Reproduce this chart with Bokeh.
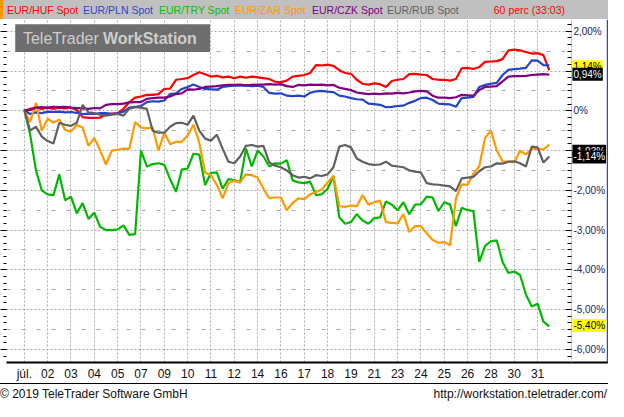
import numpy as np
from bokeh.plotting import figure
from bokeh.models import (Range1d, LinearAxis, FixedTicker, Label, BoxAnnotation, Div, Grid, Span)
from bokeh.layouts import column
from bokeh.embed import file_html
from bokeh.resources import INLINE

# ---------------- data ----------------
day_labels = ["júl.", "02", "03", "04", "05", "07", "09", "10", "11", "12", "14", "16",
              "17", "18", "19", "21", "23", "24", "25", "26", "28", "30", "31"]
# time axis in "day" units (gridline per labelled day), one point per quarter day
t = np.arange(91) * 0.25

eur_huf = [0.0, 0.05, 0.08, 0.05, 0.08, 0.05, 0.08, 0.06, 0.08, 0.02, -0.16, -0.18, -0.18, -0.17,
           -0.08, -0.07, -0.06, 0.05, 0.22, 0.33, 0.36, 0.4, 0.4, 0.42, 0.55, 0.56, 0.78, 0.8,
           0.82, 0.9, 0.97, 0.92, 0.86, 0.88, 0.84, 0.86, 0.82, 0.86, 0.83, 0.86, 0.84, 0.82,
           0.8, 0.73, 0.72, 0.76, 0.86, 0.88, 0.9, 0.95, 1.15, 1.14, 1.16, 1.13, 1.02, 0.95,
           0.93, 0.78, 0.68, 0.66, 0.69, 0.67, 0.6, 0.75, 0.78, 0.8, 0.92, 0.93, 0.91, 0.9,
           0.8, 0.78, 0.78, 0.76, 0.8, 1.07, 1.08, 1.05, 1.1, 1.23, 1.24, 1.25, 1.3, 1.52,
           1.54, 1.52, 1.48, 1.44, 1.45, 1.4, 1.02]
eur_pln = [0.0, -0.08, -0.04, -0.06, -0.02, -0.03, -0.02, -0.04, -0.03, -0.05, -0.08, -0.07,
           -0.08, -0.06, -0.06, -0.08, -0.07, -0.02, 0.08, 0.1, 0.12, 0.22, 0.24, 0.23, 0.26,
           0.42, 0.44, 0.55, 0.6, 0.66, 0.6, 0.55, 0.54, 0.53, 0.6, 0.62, 0.63, 0.63, 0.64,
           0.62, 0.63, 0.6, 0.45, 0.43, 0.44, 0.38, 0.37, 0.38, 0.36, 0.45, 0.49, 0.5, 0.48,
           0.47, 0.38, 0.36, 0.32, 0.29, 0.28, 0.18, 0.17, 0.15, 0.09, 0.1, 0.12, 0.13, 0.2,
           0.25, 0.32, 0.33, 0.27, 0.18, 0.17, 0.16, 0.1, 0.32, 0.33, 0.35, 0.6, 0.65, 0.68,
           0.7, 0.9, 1.03, 1.05, 1.06, 1.08, 1.27, 1.26, 1.15, 1.14]
eur_try = [0.05, -0.6, -1.5, -2.0, -2.1, -2.12, -1.6, -2.25, -2.16, -2.58, -2.32, -2.72, -2.56,
           -2.92, -3.0, -3.0, -2.98, -2.88, -3.12, -3.1, -1.0, -1.4, -1.34, -1.32, -1.36, -1.72,
           -2.04, -1.48, -1.45, -1.08, -1.1, -1.87, -1.56, -1.55, -1.96, -1.72, -1.74, -1.8,
           -0.95, -1.4, -1.0, -1.15, -1.4, -1.32, -1.33, -1.24, -1.75, -1.8, -1.82, -1.78,
           -2.12, -2.1, -1.96, -1.64, -2.68, -2.84, -2.8, -2.6, -2.76, -2.84, -2.7, -2.68,
           -2.28, -2.36, -2.5, -2.3, -2.6, -2.36, -2.35, -2.16, -2.18, -2.52, -2.3, -2.36,
           -2.9, -2.44, -2.5, -2.52, -3.8, -3.4, -3.28, -3.26, -3.8, -4.08, -4.04, -4.13,
           -4.62, -4.92, -4.85, -5.3, -5.42]
eur_zar = [0.0, -0.28, 0.2, -0.5, -0.2, -0.3, -0.22, -0.48, -0.52, -0.36, -0.42, -0.88, -0.68,
           -1.0, -1.35, -1.0, -0.98, -0.95, -0.96, -0.28, -0.42, -0.44, -0.42, -1.0, -0.55,
           -0.84, -0.78, -0.78, -0.62, -0.35, -0.8, -1.56, -1.62, -1.86, -2.2, -1.82, -1.76,
           -1.8, -1.6, -1.62, -1.68, -1.96, -2.2, -2.18, -2.18, -2.5, -2.32, -2.2, -2.22,
           -2.1, -2.04, -1.98, -1.8, -1.64, -2.4, -2.42, -2.38, -2.4, -2.12, -2.36, -2.3,
           -2.26, -2.8, -2.82, -2.83, -2.6, -3.05, -2.9, -2.9, -3.08, -3.25, -3.32, -3.3,
           -3.38, -2.2, -1.85, -1.86, -1.58, -1.4, -0.68, -0.5, -1.0, -1.27, -1.28, -1.3,
           -1.0, -1.1, -0.96, -0.95, -0.97, -0.85]
eur_czk = [0.0, 0.02, 0.08, 0.09, 0.08, 0.1, 0.09, 0.1, 0.08, 0.07, 0.06, 0.05, 0.07, 0.06,
           0.15, 0.17, 0.17, 0.18, 0.21, 0.22, 0.22, 0.3, 0.32, 0.33, 0.33, 0.36, 0.42, 0.44,
           0.54, 0.53, 0.55, 0.6, 0.61, 0.62, 0.64, 0.65, 0.65, 0.66, 0.64, 0.65, 0.66, 0.66,
           0.67, 0.66, 0.67, 0.62, 0.6, 0.65, 0.64, 0.66, 0.65, 0.66, 0.64, 0.65, 0.58, 0.55,
           0.52, 0.46, 0.44, 0.42, 0.43, 0.42, 0.44, 0.43, 0.45, 0.44, 0.46, 0.49, 0.5, 0.49,
           0.38, 0.33, 0.33, 0.32, 0.34, 0.4, 0.39, 0.38, 0.52, 0.6, 0.61, 0.62, 0.74, 0.86,
           0.87, 0.87, 0.88, 0.9, 0.91, 0.92, 0.91]
eur_rub = [0.0, -0.5, -0.4, -0.65, -0.76, -0.82, -0.3, -0.35, -0.38, -0.3, 0.15, -0.04, -0.06,
           -0.1, -0.12, -0.1, -0.08, -0.12, 0.05, 0.09, 0.08, 0.05, -0.5, -0.55, -0.55, -0.4,
           -0.31, -0.3, -0.35, -0.12, -0.5, -0.7, -0.75, -0.6, -0.95, -1.28, -1.32, -1.15,
           -0.88, -0.86, -0.9, -0.88, -1.3, -1.38, -1.42, -1.5, -1.62, -1.68, -1.66, -1.7,
           -1.62, -1.64, -1.6, -1.42, -0.9, -0.86, -0.92, -1.2, -1.28, -1.34, -1.36, -1.35,
           -1.28, -1.38, -1.4, -1.42, -1.5, -1.53, -1.55, -1.82, -1.85, -1.86, -1.88, -1.9,
           -2.02, -1.7, -1.68, -1.66, -1.52, -1.42, -1.4, -1.32, -1.33, -1.28, -1.27, -1.32,
           -1.4, -0.9, -0.92, -1.3, -1.15]

series_names = ["EUR/HUF Spot", "EUR/PLN Spot", "EUR/TRY Spot", "EUR/ZAR Spot", "EUR/CZK Spot", "EUR/RUB Spot"]
series_values = [eur_huf, eur_pln, eur_try, eur_zar, eur_czk, eur_rub]
series_colors = ["#ff0000", "#2244cc", "#00b800", "#ff9900", "#800080", "#606060"]
header_colors = ["#ff0000", "#3344cc", "#00c000", "#ff9900", "#800080", "#606060"]

# last-value tags (text, value, background, text colour), drawn in order
tag_texts = ["1,14%", "0,94%", "-1,03%", "-1,14%", "-5,40%"]
tag_values = [1.11, 0.92, -1.02, -1.16, -5.40]
tag_bg = ["#ffff00", "#000000", "#000000", "#000000", "#ffff00"]
tag_fg = ["#000000", "#ffffff", "#ffffff", "#ffffff", "#000000"]

y_ticks = [2, 1, 0, -1, -2, -3, -4, -5, -6]
y_tick_labels = ["2,00%", "", "0%", "", "-2,00%", "-3,00%", "-4,00%", "-5,00%", "-6,00%"]
y_minor = [k / 6 for k in range(-38, 14)]
y_half = [1.5, 0.5, -0.5, -1.5, -2.5, -3.5, -4.5, -5.5]

FONT = "Liberation Sans"
X_START, X_PANEL, X_END = -0.764, 23.45, 25.04   # plot start, price-scale edge, picture edge
Y_START, Y_END = -6.33, 2.296

# ---------------- figure ----------------
p = figure(width=608, height=364, output_backend="svg", toolbar_location=None,
           x_range=Range1d(X_START, X_END), y_range=Range1d(Y_START, Y_END),
           x_axis_location=None, y_axis_location=None,
           min_border_left=6, min_border_right=0, min_border_top=0, min_border_bottom=20,
           background_fill_color="white", border_fill_color="white", outline_line_color=None)
p.center = [r for r in p.center if not isinstance(r, Grid)]

xg = Grid(dimension=0, ticker=FixedTicker(ticks=list(range(len(day_labels)))),
          grid_line_color="#a8a8a8", grid_line_dash="2 2", grid_line_width=1)
yg = Grid(dimension=1, ticker=FixedTicker(ticks=y_ticks, minor_ticks=y_half),
          grid_line_color="#a8a8a8", grid_line_dash="2 2", grid_line_width=1,
          minor_grid_line_color="#a8a8a8", minor_grid_line_dash="4 11", minor_grid_line_width=1)
p.add_layout(xg, "center")
p.add_layout(yg, "center")

# blank price-scale panel at the right (covers the grid)
p.add_layout(BoxAnnotation(left=X_PANEL, right=X_END, fill_color="white", fill_alpha=1.0,
                           line_color=None, level="underlay"))
p.add_layout(Span(location=X_END - 0.03, dimension="height", line_color="#2a45c8", line_width=2))

# left axis: tick marks only
ly = LinearAxis(ticker=FixedTicker(ticks=y_ticks, minor_ticks=y_minor),
                major_label_overrides={v: "" for v in y_ticks},
                axis_line_color=None, major_tick_in=0, major_tick_out=6,
                minor_tick_in=0, minor_tick_out=3, major_label_standoff=0,
                major_tick_line_color="black", minor_tick_line_color="black")
p.add_layout(ly, "left")

ry = LinearAxis(ticker=FixedTicker(ticks=y_ticks, minor_ticks=y_minor), fixed_location=X_PANEL,
                major_label_overrides=dict(zip(y_ticks, y_tick_labels)),
                axis_line_color="#e8c860", axis_line_width=1,
                major_tick_in=6, major_tick_out=0, minor_tick_in=4, minor_tick_out=0,
                major_tick_line_color="black", minor_tick_line_color="black",
                major_label_standoff=2, major_label_text_font=FONT,
                major_label_text_font_size="10px", major_label_text_color="#22225a")
p.add_layout(ry, "right")

bx = LinearAxis(ticker=FixedTicker(ticks=list(range(len(day_labels)))),
                major_label_overrides={i: s for i, s in enumerate(day_labels)},
                axis_line_color="black", axis_line_width=2,
                major_tick_in=0, major_tick_out=0, minor_tick_in=0, minor_tick_out=0,
                major_label_standoff=4, major_label_text_font=FONT,
                major_label_text_font_size="12px", major_label_text_color="#111111")
p.add_layout(bx, "below")

# watermark
p.add_layout(BoxAnnotation(left=-0.39, right=7.96, top=2.176, bottom=1.477,
                           fill_color="#6e6e6e", fill_alpha=1.0, line_color=None, level="underlay"))
p.add_layout(Label(x=-0.06, y=1.82, text="TeleTrader", text_font=FONT, text_font_size="16px",
                   text_color="#cdcdcd", text_baseline="middle", text_align="left"))
p.add_layout(Label(x=3.37, y=1.82, text="WorkStation", text_font=FONT, text_font_size="16px",
                   text_font_style="bold", text_color="#cdcdcd", text_baseline="middle",
                   text_align="left"))

for vals, col in zip(series_values, series_colors):
    p.line(t, vals, line_color=col, line_width=2.2)

for txt, v, bg, fg in zip(tag_texts, tag_values, tag_bg, tag_fg):
    p.add_layout(Label(x=X_PANEL, y=v, text=txt, x_offset=1, text_font=FONT, text_font_size="10px",
                       text_color=fg, background_fill_color=bg, text_baseline="middle",
                       text_align="left", padding=1))

# ---------------- header & footer ----------------
hx = [7, 83, 159, 235, 312, 387]
spans = "".join(
    f'<span style="position:absolute;left:{x}px;top:3px;color:{c};white-space:nowrap">{n}</span>'
    for x, c, n in zip(hx, header_colors, series_names))
header_html = (
    f'<div style="position:relative;width:608px;height:19px;background:#c0c0c0;'
    f'font-family:\'{FONT}\';font-size:10.5px;overflow:hidden">'
    '<div style="position:absolute;left:0;top:0;width:3px;height:19px;background:#ff9900"></div>'
    + spans +
    '<span style="position:absolute;right:43px;top:3px;color:#ff0000;white-space:nowrap">60 perc (33:03)</span>'
    '</div>')
header = Div(text=header_html, width=608, height=19, margin=0)

footer_html = (
    f'<div style="position:relative;width:608px;height:18px;border-top:1px solid #000;'
    f'box-sizing:border-box;font-family:\'{FONT}\';font-size:12px;color:#111;overflow:hidden">'
    '<span style="position:absolute;left:0;top:2px;white-space:nowrap">© 2019 TeleTrader Software GmbH</span>'
    '<span style="position:absolute;right:1px;top:2px;white-space:nowrap">http://workstation.teletrader.com/</span>'
    '</div>')
footer = Div(text=footer_html, width=608, height=18, margin=0)

layout = column(header, p, footer, spacing=0)
open("out.html", "w").write(file_html(layout, INLINE))
